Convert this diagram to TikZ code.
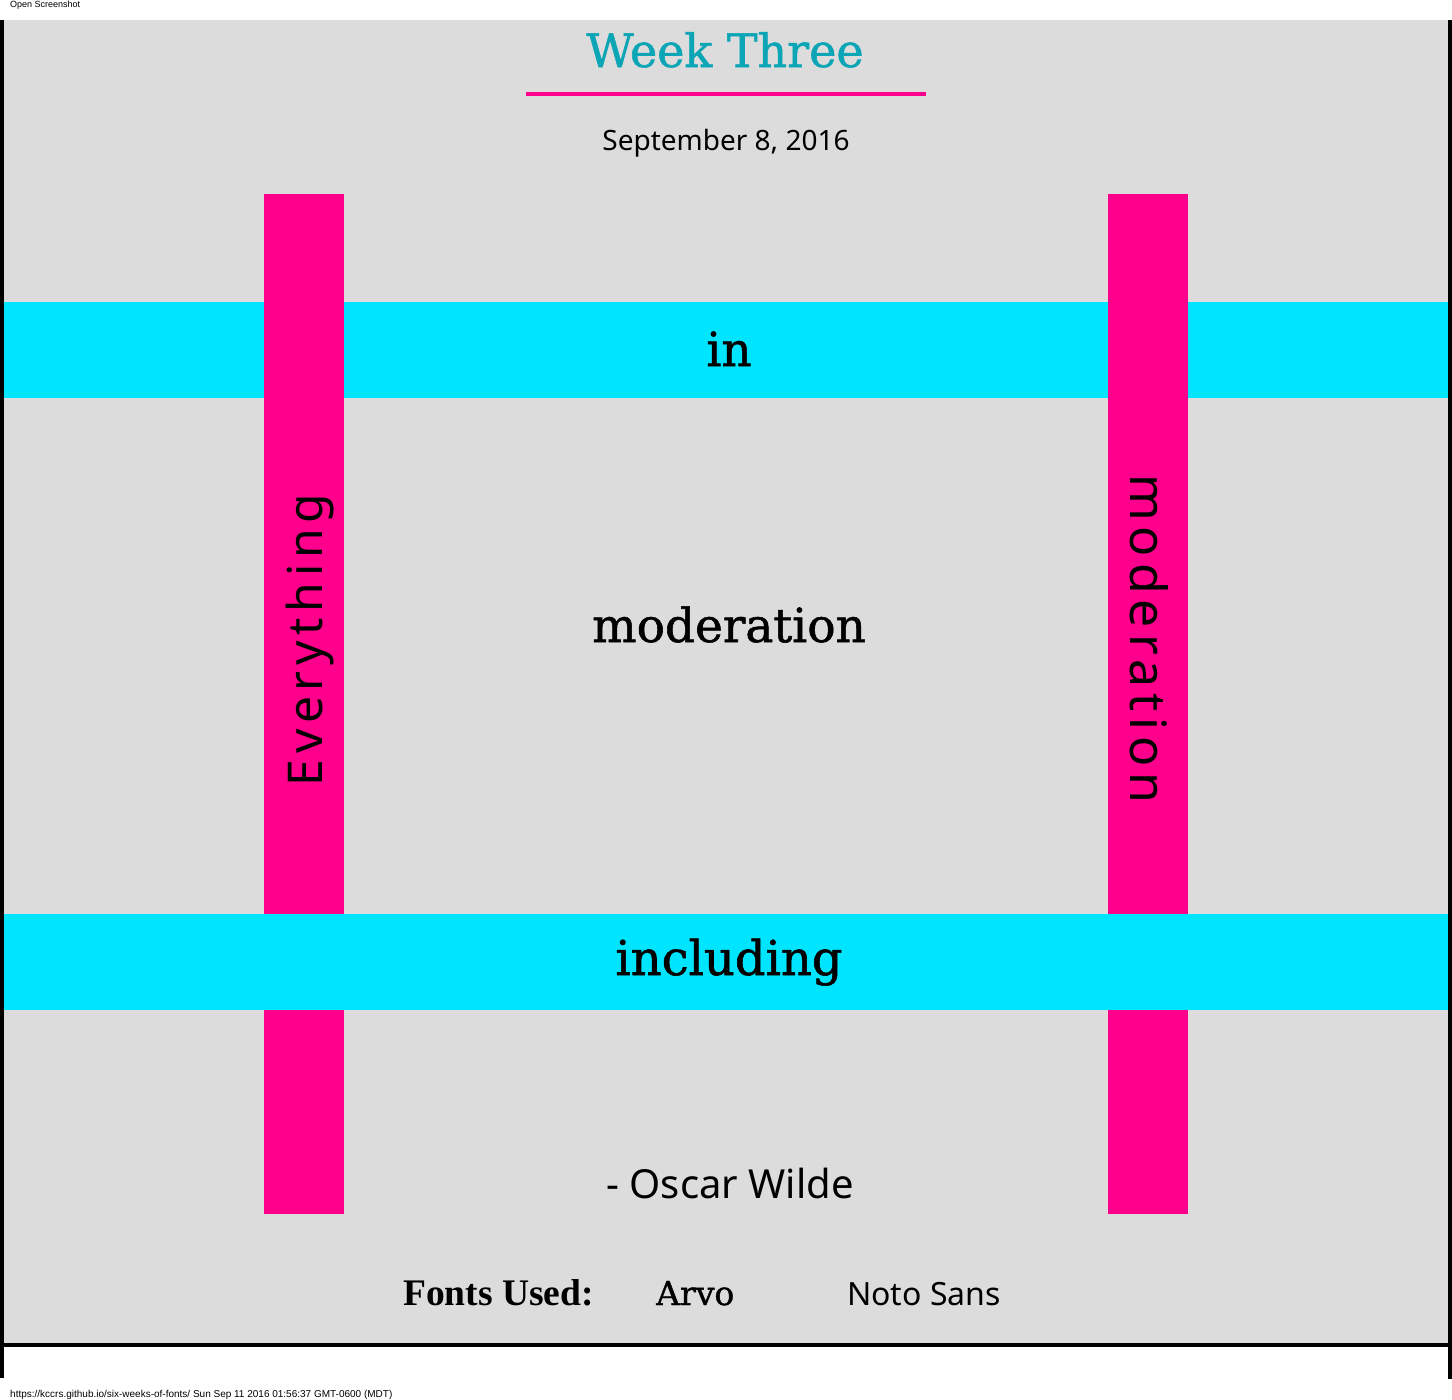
\documentclass[tikz,border=0pt]{standalone}
\usepackage{fontspec}
\usetikzlibrary{positioning}
\newfontfamily\arvo[FakeBold=1.2]{DejaVu Serif}
\newfontfamily\noto{Noto Sans}
\newfontfamily\notowide[LetterSpace=12]{Noto Sans}
\newfontfamily\footserif{Liberation Serif}
\newfontfamily\shotfont{Liberation Sans}
\definecolor{pinkbar}{HTML}{FF008C}
\definecolor{cyanband}{HTML}{00E5FF}
\definecolor{pagegray}{HTML}{DCDCDC}
\definecolor{titleteal}{HTML}{0BA5B5}

\begin{document}
\begin{tikzpicture}[x=1pt,y=-1pt,
    word/.style={inner sep=0pt, anchor=base},
    slab/.style={word, font=\arvo\fontsize{#1}{#1}\selectfont},
    sans/.style={word, font=\noto\fontsize{#1}{#1}\selectfont}]
    \useasboundingbox (0,0) rectangle (1452,1400);
    % page
    \fill[pagegray] (4,20) rectangle (1448,1343);
    \fill[black] (0,20) rectangle (4,1378);
    \fill[black] (1448,20) rectangle (1452,1379);
    \fill[black] (4,1343) rectangle (1448,1347);
    \node[word, anchor=base west, font=\shotfont\fontsize{9}{9}\selectfont] (shot) at (10,8) {Open Screenshot};
    \node[word, anchor=base west, font=\shotfont\fontsize{10}{10}\selectfont] (url) at (10,1397) {https://kccrs.github.io/six-weeks-of-fonts/ Sun Sep 11 2016 01:56:37 GMT-0600 (MDT)};

    % heading
    \node[slab=46, text=titleteal] (title) at (725,67) {Week Three};
    \fill[pinkbar] (526,92) rectangle (926,96);
    \node[sans=28] (date) at (726,150) {September 8, 2016};

    % bands and bars
    \fill[cyanband] (4,302) rectangle (1448,398);
    \fill[pinkbar] (264,194) rectangle (344,1214);
    \fill[pinkbar] (1108,194) rectangle (1188,1214);
    \fill[cyanband] (4,914) rectangle (1448,1010);

    % quote
    \node[slab=47] (in) at (729,366) {in};
    \node[slab=47] (middle) at (729,642) {moderation};
    \node[slab=48] (including) at (729,975) {including};
    \node[word, rotate=90, font=\notowide\fontsize{48}{48}\selectfont] (everything) at (322,640) {Everything};
    \node[word, rotate=-90, font=\notowide\fontsize{50}{50}\selectfont] (moderation) at (1130,639) {moderation};
    \node[sans=40] (author) at (730,1198) {- Oscar Wilde};

    % footer
    \node[word, anchor=base west, font=\footserif\bfseries\fontsize{37.5}{37.5}\selectfont] (used) at (403,1305) {Fonts Used:};
    \node[word, anchor=base west, font=\arvo\fontsize{33}{33}\selectfont] (arvo) at (656,1305) {Arvo};
    \node[word, anchor=base west, font=\noto\fontsize{32}{32}\selectfont] (notosans) at (847,1305) {Noto Sans};
\end{tikzpicture}
\end{document}
